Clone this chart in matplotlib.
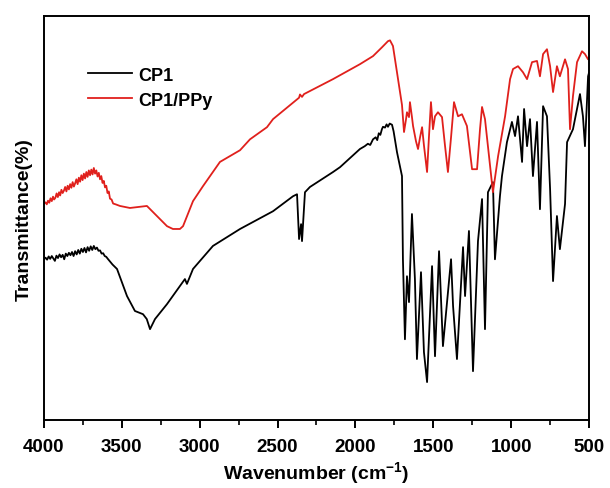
import numpy as np
import matplotlib
matplotlib.use('Agg')
from matplotlib import pyplot as plt
from matplotlib.ticker import MultipleLocator


# CP1/PPy spectrum, wavenumber (cm-1) and transmittance (a.u.)
wn_ppy = [4000, 3990, 3982, 3974, 3966, 3958, 3950, 3942, 3935, 3927, 3919,
          3911, 3903, 3896, 3888, 3880, 3872, 3864, 3856, 3848, 3840, 3832,
          3824, 3816, 3808, 3800, 3792, 3784, 3776, 3768, 3760, 3752, 3744,
          3736, 3728, 3720, 3712, 3704, 3696, 3688, 3680, 3672, 3664, 3656,
          3648, 3640, 3632, 3624, 3616, 3608, 3600, 3592, 3584, 3576, 3566,
          3556, 3540, 3512, 3448, 3339, 3274, 3210, 3172, 3127, 3107, 3043,
          2979, 2915, 2870, 2741, 2677, 2568, 2529, 2375, 2362, 2356, 2343,
          2330, 2144, 1971, 1887, 1829, 1791, 1778, 1759, 1733, 1714, 1701,
          1688, 1675, 1669, 1656, 1650, 1637, 1630, 1611, 1598, 1585, 1572,
          1560, 1540, 1528, 1515, 1502, 1489, 1470, 1444, 1425, 1406, 1386,
          1367, 1341, 1316, 1284, 1251, 1219, 1200, 1187, 1168, 1149, 1117,
          1084, 1039, 1007, 988, 956, 924, 898, 866, 834, 815, 795, 770, 750,
          731, 706, 687, 654, 635, 622, 603, 577, 545, 526, 506, 500]
t_ppy = [53.5, 53.9, 53.4, 54.3, 53.8, 54.9, 54.2, 55.3, 54.6, 55.0, 56.1,
         55.2, 56.4, 55.6, 57.0, 56.2, 56.8, 57.7, 56.6, 58.0, 57.1, 58.4,
         57.5, 58.9, 57.8, 58.6, 59.6, 58.4, 60.0, 59.0, 60.6, 59.4, 61.0,
         59.8, 61.4, 60.2, 61.8, 60.6, 62.0, 60.8, 62.4, 61.0, 61.8, 60.3,
         61.2, 59.6, 60.4, 58.7, 59.2, 57.6, 58.0, 56.2, 56.6, 54.8, 54.6,
         53.6, 53.4, 53.0, 52.5, 53.0, 50.5, 48.0, 47.3, 47.3, 48.0, 54.2,
         57.9, 61.4, 63.9, 66.8, 69.5, 72.5, 74.5, 79.4, 79.8, 80.6, 80.0,
         80.7, 84.4, 88.1, 90.1, 92.3, 93.8, 94.0, 92.6, 86.1, 81.2, 78.0,
         71.3, 74.5, 76.2, 75.0, 78.7, 75.0, 72.8, 69.0, 67.1, 70.0, 72.5,
         68.0, 61.4, 70.0, 78.7, 72.0, 75.2, 76.2, 75.0, 68.0, 61.4, 70.0,
         78.7, 75.2, 75.7, 72.8, 62.1, 62.1, 72.0, 77.5, 74.5, 67.8, 56.4,
         65.3, 75.2, 84.4, 86.9, 87.6, 86.1, 84.4, 88.6, 88.9, 85.1, 90.6,
         91.8, 87.6, 81.2, 87.6, 85.1, 89.3, 86.9, 72.0, 80.2, 88.6, 91.3,
         90.6, 89.3, 89.5]

# CP1 spectrum
wn_cp1 = [4000, 3990, 3980, 3970, 3960, 3950, 3940, 3930, 3920, 3910, 3900,
          3890, 3880, 3870, 3860, 3850, 3840, 3830, 3820, 3810, 3800, 3790,
          3780, 3770, 3760, 3750, 3740, 3730, 3720, 3710, 3700, 3690, 3680,
          3670, 3660, 3650, 3640, 3630, 3620, 3610, 3600, 3590, 3575, 3560,
          3531, 3467, 3416, 3364, 3340, 3319, 3287, 3210, 3127, 3095, 3082,
          3043, 2915, 2741, 2529, 2401, 2375, 2362, 2349, 2343, 2324, 2292,
          2144, 2099, 1971, 1940, 1920, 1905, 1887, 1870, 1860, 1850, 1840,
          1830, 1823, 1810, 1800, 1791, 1780, 1765, 1755, 1733, 1701, 1695,
          1682, 1669, 1656, 1637, 1618, 1605, 1579, 1560, 1540, 1508, 1489,
          1463, 1438, 1386, 1373, 1348, 1309, 1296, 1271, 1245, 1213, 1187,
          1168, 1149, 1117, 1104, 1072, 1059, 1027, 995, 975, 956, 930, 917,
          898, 879, 860, 834, 815, 795, 770, 750, 731, 706, 687, 654, 641,
          603, 558, 539, 526, 506, 500]
t_cp1 = [39.8, 40.2, 39.7, 40.5, 39.9, 40.6, 40.0, 39.4, 40.7, 40.1, 41.0,
         40.3, 40.9, 39.8, 41.2, 40.6, 41.4, 40.8, 41.6, 40.6, 41.8, 41.0,
         42.1, 41.2, 42.4, 41.6, 42.6, 41.5, 42.8, 41.9, 43.0, 42.1, 43.1,
         42.3, 42.7, 41.9, 42.0, 41.2, 41.3, 40.6, 40.4, 39.9, 39.2, 38.5,
         37.4, 30.7, 27.0, 26.2, 25.0, 22.5, 25.0, 28.7, 33.2, 34.9, 33.7,
         37.4, 43.1, 47.3, 51.7, 55.4, 55.9, 44.8, 48.5, 44.3, 56.4, 57.7,
         61.4, 62.6, 67.1, 67.8, 68.4, 68.1, 69.5, 70.0, 69.3, 71.0, 70.6,
         72.0, 72.6, 72.4, 73.2, 72.6, 73.4, 73.1, 71.5, 66.3, 60.4, 39.8,
         20.0, 35.6, 29.2, 51.0, 34.9, 15.1, 36.6, 16.8, 9.4, 38.1, 15.8,
         41.8, 18.3, 39.8, 28.2, 15.1, 42.8, 30.7, 46.8, 12.1, 44.3, 54.7,
         22.5, 56.4, 58.9, 39.8, 55.4, 60.4, 68.8, 73.8, 70.3, 75.2, 63.9,
         77.0, 67.8, 74.5, 60.4, 73.8, 52.2, 77.7, 75.2, 57.2, 34.4, 50.5,
         42.3, 53.5, 68.8, 72.0, 80.7, 75.2, 67.8, 85.1, 86.0]


def main():
    plt.rcParams['font.family'] = ['Liberation Sans', 'DejaVu Sans']
    plt.rcParams['font.weight'] = 'bold'
    plt.rcParams['mathtext.fontset'] = 'custom'
    plt.rcParams['mathtext.bf'] = 'Liberation Sans:bold'
    plt.rcParams['mathtext.rm'] = 'Liberation Sans:bold'

    fig = plt.figure(figsize=(6.1, 4.89), dpi=100)
    ax = fig.add_axes([0.0721, 0.139, 0.8935, 0.826])

    ax.plot(wn_cp1, t_cp1, color='black', lw=1.3, label='CP1')
    ax.plot(wn_ppy, t_ppy, color='#e0201c', lw=1.3, label='CP1/PPy')

    ax.set_xlim(4000, 500)
    ax.set_ylim(0, 100)
    ax.xaxis.set_major_locator(MultipleLocator(500))
    ax.xaxis.set_minor_locator(MultipleLocator(250))
    ax.tick_params(axis='x', which='major', direction='out', length=6,
                   width=1.4, labelsize=13.5, pad=7)
    ax.tick_params(axis='x', which='minor', direction='out', length=3.5,
                   width=1.2)
    ax.set_yticks([])
    for sp in ax.spines.values():
        sp.set_linewidth(1.4)

    ax.set_xlabel('Wavenumber (cm$^{-1}$)', fontsize=14, fontweight='bold',
                  labelpad=3)
    ax.set_ylabel('Transmittance(%)', fontsize=14, fontweight='bold',
                  labelpad=8)

    ax.legend(loc='upper left', bbox_to_anchor=(0.081, 0.875), frameon=False,
              fontsize=13, handlelength=2.45, handletextpad=0.3,
              borderpad=0, borderaxespad=0, labelspacing=0.45)

    fig.savefig('out.png', dpi=100)


if __name__ == '__main__':
    main()
